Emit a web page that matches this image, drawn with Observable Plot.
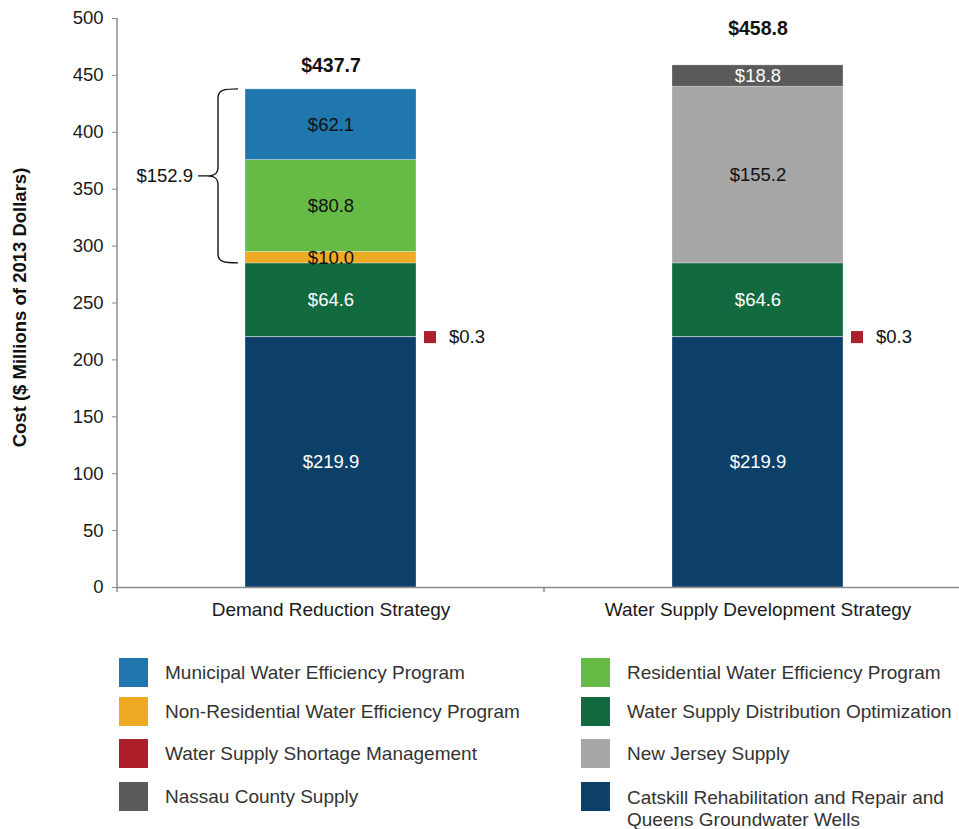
<!DOCTYPE html>
<html><head><meta charset="utf-8">
<script src="https://cdn.jsdelivr.net/npm/d3@7"></script>
<script src="https://cdn.jsdelivr.net/npm/@observablehq/plot@0.6"></script>
<style>
html,body{margin:0;background:#fff;font-family:"Liberation Sans",Arial,sans-serif;overflow:hidden;}
#chart{width:959px;height:630px;}
#chart g[aria-label="y-axis tick"]{stroke:#8c8c8c;}
#chart g[aria-label="x-axis tick label"]{font-size:19px;}
.legend{position:relative;width:959px;height:199px;overflow:hidden;}
.sw{position:absolute;width:29px;height:29px;}
.lt{position:absolute;font-size:19px;color:#333;line-height:22px;white-space:pre-line;}
</style></head><body>
<div id="chart"></div>
<div class="legend" id="legend"></div>
<script>
// ---- data ----
const strategies = ["Demand Reduction Strategy", "Water Supply Development Strategy"];
const components = [
  "Catskill Rehabilitation and Repair and Queens Groundwater Wells",
  "Water Supply Shortage Management",
  "Water Supply Distribution Optimization",
  "Non-Residential Water Efficiency Program",
  "Residential Water Efficiency Program",
  "Municipal Water Efficiency Program",
  "New Jersey Supply",
  "Nassau County Supply"
];
const componentColors = ["#0d4068", "#ad1f2a", "#126b40", "#eeaa22", "#66bb46", "#1f77ad", "#a6a6a6", "#5a5a5a"];
const demandValues = [219.9, 0.3, 64.6, 10.0, 80.8, 62.1, 0, 0];
const supplyValues = [219.9, 0.3, 64.6, 0, 0, 0, 155.2, 18.8];
const totals = [437.7, 458.8];
const braceLabel = "$152.9";
const yLabel = "Cost ($ Millions of 2013 Dollars)";
const whiteLabelComponents = [components[0], components[2], components[7]];
const legendLeft = [components[5], components[3], components[1], components[7]];
const legendRight = [components[4], components[2], components[6], components[0]];
const legendText = {
  [components[0]]: "Catskill Rehabilitation and Repair and\nQueens Groundwater Wells"
};

// ---- derived table ----
const seriesValues = [demandValues, supplyValues];
const rows = [];
strategies.forEach((s, si) => {
  let acc = 0;
  components.forEach((c, ci) => {
    const v = seriesValues[si][ci];
    if (v > 0) {
      rows.push({strategy: s, component: c, value: v, y1: acc, y2: acc + v, mid: acc + v / 2, label: "$" + v.toFixed(1)});
      acc += v;
    }
  });
});
const shortage = components[1];
const totalRows = strategies.map((s, i) => ({strategy: s, total: totals[i], label: "$" + totals[i].toFixed(1)}));
const demandRows = rows.filter(d => d.strategy === strategies[0]);
const braceBottom = demandRows.find(d => d.component === components[2]).y2;
const braceTop = demandRows[demandRows.length - 1].y2;

const font = '"Liberation Sans", Arial, sans-serif';

const customMark = (index, scales, values, dimensions) => {
  const g = d3.create("svg:g");
  const x = scales.x, y = scales.y;
  const bw = x.bandwidth ? x.bandwidth() : 171;
  const left = dimensions.marginLeft;
  const y0 = y(0), yTop = y(500);
  g.append("line").attr("x1", left).attr("x2", left).attr("y1", yTop).attr("y2", y0 + 5)
    .attr("stroke", "#8c8c8c").attr("stroke-width", 1.5);
  const sep = (x(strategies[0]) + bw + x(strategies[1])) / 2;
  g.append("line").attr("x1", sep).attr("x2", sep).attr("y1", y0).attr("y2", y0 + 5)
    .attr("stroke", "#8c8c8c").attr("stroke-width", 1.5);
  // brace
  const x0 = x(strategies[0]);
  const t = y(braceTop), b = y(braceBottom), m = (t + b) / 2;
  const xv = x0 - 27, xe = x0 - 7, xt = x0 - 38;
  const p = `M${xe},${t} C${xv + 6},${t} ${xv},${t + 1} ${xv},${t + 9} L${xv},${m - 9} C${xv},${m - 2} ${xv - 4},${m} ${xt},${m}`
    + ` C${xv - 4},${m} ${xv},${m + 2} ${xv},${m + 9} L${xv},${b - 9} C${xv},${b - 1} ${xv + 6},${b} ${xe},${b}`
    + ` M${xt},${m} L${xt - 9},${m}`;
  g.append("path").attr("d", p).attr("fill", "none").attr("stroke", "#111").attr("stroke-width", 1.4);
  g.append("text").attr("x", xt - 14).attr("y", m).attr("text-anchor", "end").attr("dy", "0.35em")
    .attr("font-size", 18.5).attr("fill", "#111").text(braceLabel);
  // y label
  g.append("text").attr("transform", `translate(20,${(y0 + yTop) / 2 + 5}) rotate(-90)`)
    .attr("text-anchor", "middle").attr("dy", "0.35em").attr("font-weight", "bold")
    .attr("font-size", 18.5).attr("fill", "#111").text(yLabel);
  return g.node();
};

const plot = Plot.plot({
  width: 959, height: 630,
  marginLeft: 117, marginRight: 0, marginTop: 18, marginBottom: 43,
  style: {fontFamily: font, fontSize: "18.5px", color: "#1a1a1a", background: "#fff"},
  x: {domain: strategies, range: [117, 971], paddingInner: 0.6, paddingOuter: 0.3, align: 0.5,
      tickSize: 0, tickPadding: 15, label: null},
  y: {domain: [0, 500], ticks: 10, tickSize: 5, tickPadding: 9, label: null},
  color: {domain: components, range: componentColors},
  marks: [
    Plot.barY(rows.filter(d => d.component !== shortage), {x: "strategy", y1: "y1", y2: "y2", fill: "component",
      stroke: "#ffffff", strokeOpacity: 0.35, strokeWidth: 0.8}),
    Plot.ruleY([0], {stroke: "#8c8c8c", strokeWidth: 1.5}),
    Plot.text(rows.filter(d => d.component !== shortage && whiteLabelComponents.includes(d.component)),
      {x: "strategy", y: "mid", text: "label", fill: "#ffffff", fontSize: 18.5}),
    Plot.text(rows.filter(d => d.component !== shortage && !whiteLabelComponents.includes(d.component)),
      {x: "strategy", y: "mid", text: "label", fill: "#111", fontSize: 18.5}),
    Plot.dot(rows.filter(d => d.component === shortage), {x: "strategy", y: "mid", symbol: "square", r: 6.8,
      fill: "component", dx: 99}),
    Plot.text(rows.filter(d => d.component === shortage), {x: "strategy", y: "mid", text: "label",
      textAnchor: "start", dx: 118, fill: "#111", fontSize: 18.5}),
    Plot.text(totalRows.slice(0, 1), {x: "strategy", y: "total", text: "label", dy: -24, fontWeight: "bold", fontSize: 19.5, fill: "#111"}),
    Plot.text(totalRows.slice(1, 2), {x: "strategy", y: "total", text: "label", dy: -37, fontWeight: "bold", fontSize: 19.5, fill: "#111"}),
    customMark
  ]
});
document.getElementById("chart").appendChild(plot);

// ---- legend ----
const colorOf = c => componentColors[components.indexOf(c)];
const leg = document.getElementById("legend");
const rowTops = [28, 67, 109, 152];
const cols = [{items: legendLeft, sw: 119, tx: 165}, {items: legendRight, sw: 581, tx: 627}];
cols.forEach(col => {
  col.items.forEach((c, i) => {
    const sw = document.createElement("div");
    sw.className = "sw";
    sw.style.left = col.sw + "px";
    sw.style.top = rowTops[i] + "px";
    sw.style.background = colorOf(c);
    leg.appendChild(sw);
    const tx = document.createElement("div");
    tx.className = "lt";
    tx.style.left = col.tx + "px";
    const txt = legendText[c] || c;
    const multi = txt.includes("\n");
    tx.style.top = (rowTops[i] + 14.5 - 11 + (multi ? 1.5 : 0)) + "px";
    tx.textContent = txt;
    leg.appendChild(tx);
  });
});
</script>
</body></html>
